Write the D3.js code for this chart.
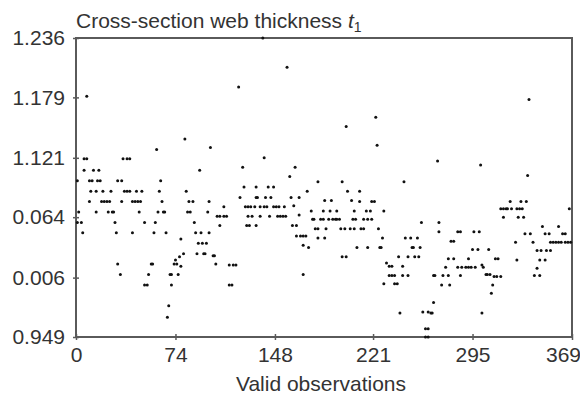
<!DOCTYPE html>
<html><head><meta charset="utf-8">
<script src="https://cdn.jsdelivr.net/npm/d3@7"></script>
<style>body{margin:0;background:#fff}svg{display:block}</style>
</head><body>
<svg id="chart" width="580" height="401"></svg>
<script>
const xTicks = [0, 74, 148, 221, 295, 369];
const yTicks = [1.236, 1.179, 1.121, 1.064, 1.006, 0.949];
const yTickLabels = ["1.236", "1.179", "1.121", "0.064", "0.006", "0.949"];
const obsIndex = [
1,1,2,4,5,6,6,8,8,10,10,11,12,13,15,15,16,17,18,19,20,21,23,24,25,26,27,28,29,30,31,31,33,34,34,35,36,38,38,40,40,42,42,44,45,46,47,48,49,51,51,
53,54,56,57,58,59,60,61,62,63,64,65,66,67,68,69,70,71,71,73,74,75,76,77,78,78,80,81,82,83,84,85,87,88,89,90,91,92,93,94,95,96,97,98,99,99,100,102,103,104,
105,107,107,110,110,112,114,114,116,117,119,121,122,124,125,126,127,128,128,129,130,131,133,134,134,134,135,137,137,139,140,140,141,142,143,144,145,147,147,149,150,151,152,154,155,156,157,
159,160,161,162,163,164,164,166,166,167,169,169,169,171,172,173,175,176,177,178,180,180,180,182,184,184,185,185,186,188,189,190,191,193,194,194,196,197,198,198,200,201,201,202,204,205,206,207,207,208,209,
211,211,212,214,214,216,217,217,219,220,220,222,223,224,225,226,227,228,229,229,231,233,233,235,235,237,237,239,240,241,243,243,244,245,247,247,249,250,251,252,254,255,256,257,258,260,260,262,262,262,
264,265,266,266,267,269,270,270,272,273,275,277,277,278,279,281,281,284,284,286,286,287,290,292,292,294,295,296,297,299,300,301,302,302,303,305,306,307,308,309,310,311,312,313,314,316,
316,318,318,320,321,323,324,327,328,328,329,330,331,332,333,334,335,336,337,338,340,341,343,343,345,345,346,347,349,349,350,352,353,353,355,357,359,359,361,362,364,364,366,367,368
];
const thickness = [
1.099,1.059,1.069,1.059,1.049,1.120,1.109,1.180,1.120,1.099,1.079,1.089,1.099,1.109,1.069,1.089,1.099,1.109,1.099,1.079,1.089,1.079,1.079,1.069,1.079,1.089,1.069,1.069,1.059,1.049,1.019,1.099,1.009,1.099,1.079,1.120,1.089,1.120,1.089,1.089,1.120,1.049,1.079,1.079,1.089,1.079,1.069,1.079,1.089,1.059,0.999,
0.999,1.009,1.019,1.019,1.049,1.059,1.129,1.069,1.089,1.099,1.079,1.069,1.069,1.049,0.968,0.979,1.009,1.009,0.999,1.019,1.023,1.019,1.009,1.026,1.043,1.017,1.029,1.139,1.089,1.069,1.079,1.069,1.079,1.059,1.049,1.029,1.039,1.109,1.049,1.039,1.029,1.029,1.039,1.069,1.049,1.079,1.131,1.027,1.027,1.019,
1.065,1.065,1.056,1.065,1.074,1.065,0.999,1.018,0.999,1.018,1.018,1.189,1.083,1.112,1.093,1.074,1.056,1.074,1.065,1.056,1.074,1.065,1.074,1.093,1.083,1.056,1.083,1.074,1.065,1.236,1.121,1.074,1.083,1.074,1.093,1.065,1.083,1.093,1.074,1.074,1.065,1.074,1.065,1.065,1.074,1.065,1.208,
1.103,1.083,1.056,1.075,1.112,1.056,1.046,1.083,1.066,1.046,1.046,1.037,1.009,1.046,1.089,1.035,1.070,1.062,1.062,1.053,1.053,1.098,1.044,1.062,1.062,1.070,1.080,1.044,1.053,1.062,1.070,1.080,1.062,1.062,1.062,1.070,1.062,1.053,1.098,1.026,1.053,1.026,1.151,1.089,1.053,1.080,1.062,1.070,1.053,1.062,1.035,
1.089,1.079,1.053,1.053,1.062,1.070,1.062,1.035,1.070,1.062,1.079,1.079,1.160,1.133,1.053,1.035,1.035,1.044,1.000,1.070,1.020,1.017,1.008,1.017,1.008,1.008,1.000,1.000,1.026,0.972,1.017,1.008,1.098,1.044,1.008,1.026,1.044,1.035,1.035,1.026,1.044,1.026,1.035,1.059,0.973,0.957,0.949,0.973,0.957,0.949,
0.972,0.972,0.982,1.008,1.008,1.118,1.050,1.059,0.999,1.008,1.016,1.008,1.024,0.999,1.041,1.041,1.024,1.016,1.050,1.050,1.008,1.016,1.016,1.016,1.024,1.016,1.033,1.050,1.016,1.033,1.050,1.114,1.018,0.972,1.016,1.009,1.009,1.033,1.009,0.991,0.999,1.007,1.024,1.007,1.024,1.007,
1.072,1.072,1.064,1.072,1.072,1.079,1.072,1.040,1.023,1.072,1.064,1.072,1.079,1.072,1.064,1.048,1.079,1.104,1.177,1.048,1.040,1.008,1.032,1.015,1.008,1.023,1.032,1.055,1.048,1.023,1.032,1.048,1.032,1.040,1.040,1.040,1.040,1.055,1.040,1.048,1.048,1.040,1.040,1.072,1.040
];

const svg = d3.select("#chart");
const L = 76, R = 572, T = 38, B = 337;
const x = d3.scaleLinear().domain([0, 369]).range([L, R]);
const y = d3.scaleLinear().domain([0.949, 1.236]).range([B, T]);
const font = "'Liberation Sans', Arial, sans-serif";
const frameCol = "#5a5a5a";
const fs = 21;

// frame
svg.append("rect").attr("x", L).attr("y", T).attr("width", R - L).attr("height", B - T)
  .attr("fill", "none").attr("stroke", frameCol).attr("stroke-width", 2);

// y axis
const yAxis = d3.axisLeft(y).tickValues(yTicks).tickSize(3)
  .tickFormat((d, i) => yTickLabels[i]);
const gy = svg.append("g").attr("transform", `translate(${L},0)`).call(yAxis);
gy.select(".domain").remove();
gy.selectAll(".tick line").attr("stroke", frameCol).attr("stroke-width", 1.5).attr("x2", 3).attr("x1", -3);
gy.selectAll(".tick text").attr("x", -11).attr("font-size", fs).attr("font-family", font).attr("fill", "#333");

// x axis
const xAxis = d3.axisBottom(x).tickValues(xTicks).tickSize(3).tickFormat(d3.format("d"));
const gx = svg.append("g").attr("transform", `translate(0,${B})`).call(xAxis);
gx.select(".domain").remove();
gx.selectAll(".tick line").attr("stroke", frameCol).attr("stroke-width", 1.5).attr("y1", -3).attr("y2", 3);
gx.selectAll(".tick text").attr("y", 10).attr("font-size", fs).attr("font-family", font).attr("fill", "#333")
  .attr("x", (d) => d === 369 ? -9 : 0);

// points
svg.append("g").selectAll("circle").data(obsIndex).join("circle")
  .attr("cx", (d) => x(d)).attr("cy", (d, i) => y(thickness[i]))
  .attr("r", 1.5).attr("fill", "#111");

// title
const title = svg.append("text").attr("x", L).attr("y", 28)
  .attr("font-size", fs).attr("font-family", font).attr("fill", "#333");
title.append("tspan").text("Cross-section web thickness ");
title.append("tspan").attr("font-style", "italic").text("t");
title.append("tspan").attr("font-size", 14).attr("dy", 4).text("1");

svg.append("text").attr("x", 321).attr("y", 391).attr("text-anchor", "middle")
  .attr("font-size", fs).attr("font-family", font).attr("fill", "#333").text("Valid observations");
</script>
</body></html>
